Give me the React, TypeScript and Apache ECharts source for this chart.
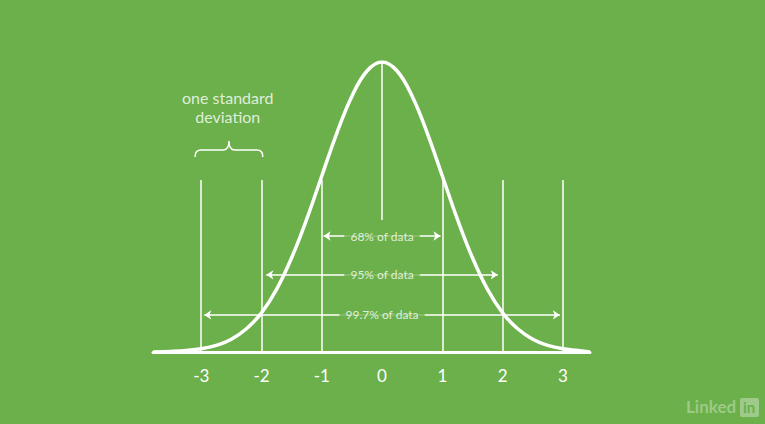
import { useEffect, useRef } from "react"
import * as echarts from "echarts"

// bell curve heights (relative to the peak)
const curveX = [-3.8, -3.5, -3.25, -3, -2.75, -2.5, -2.25, -2, -1.75, -1.5, -1.25, -1, -0.75, -0.5, -0.25, 0, 0.25, 0.5, 0.75, 1, 1.25, 1.5, 1.75, 2, 2.25, 2.5, 2.75, 3, 3.25, 3.45]
const curveY = [0.0, 0.002, 0.005, 0.011, 0.023, 0.044, 0.08, 0.135, 0.216, 0.325, 0.458, 0.607, 0.755, 0.882, 0.969, 1, 0.969, 0.882, 0.755, 0.607, 0.458, 0.325, 0.216, 0.135, 0.08, 0.044, 0.023, 0.011, 0.005, 0.0]

const sigmaLines = [-3, -2, -1, 1, 2, 3]
const sigmaTop = 0.593
const centerBottom = 0.455

const ranges = [
  { label: "68% of data", from: -0.97, to: 0.97, y: 0.4 },
  { label: "95% of data", from: -1.92, to: 1.92, y: 0.266 },
  { label: "99.7% of data", from: -2.95, to: 2.95, y: 0.128 },
]

const tickLabels = ["-3", "-2", "-1", "0", "1", "2", "3"]

const GREEN = "#6bb04a"
const FONT = "Lato, 'Open Sans', sans-serif"

export default function App() {
  const ref = useRef<HTMLDivElement>(null)

  useEffect(() => {
    if (!ref.current) return
    const chart = echarts.init(ref.current, undefined, { renderer: "svg" })

    const vLines = sigmaLines.map((x) => ({ coords: [[x, 0], [x, sigmaTop]] }))
    vLines.push({ coords: [[0, centerBottom], [0, 1]] })

    chart.setOption({
      animation: false,
      backgroundColor: GREEN,
      grid: { left: 153, right: 175, top: 62, bottom: 72 },
      xAxis: {
        type: "value",
        min: -3.8,
        max: 3.45,
        splitLine: { show: false },
        axisTick: { show: false },
        axisLine: { show: true, onZero: false, lineStyle: { color: "#fff", width: 3 } },
        axisLabel: {
          show: true,
          color: "#fff",
          fontSize: 17,
          fontFamily: FONT,
          margin: 15,
          customValues: [-3, -2, -1, 0, 1, 2, 3],
          formatter: (v: number) => tickLabels[v + 3] ?? "",
        },
      },
      yAxis: { type: "value", min: 0, max: 1, show: false },
      series: [
        {
          type: "lines",
          coordinateSystem: "cartesian2d",
          symbol: "none",
          lineStyle: { color: "#fff", width: 1.5, opacity: 1 },
          data: vLines,
          silent: true,
        },
        {
          type: "lines",
          coordinateSystem: "cartesian2d",
          symbol: ["arrow", "arrow"],
          symbolSize: 7,
          lineStyle: { color: "#fff", width: 1.5, opacity: 1 },
          data: ranges.map((r) => ({ coords: [[r.from, r.y], [r.to, r.y]] })),
          silent: true,
        },
        {
          type: "scatter",
          symbolSize: 0,
          data: ranges.map((r) => [0, r.y, r.label]),
          label: {
            show: true,
            position: "inside",
            formatter: (p: any) => p.data[2],
            color: "#fff",
            fontSize: 12,
            fontFamily: FONT,
            backgroundColor: GREEN,
            padding: [2, 6],
          },
          z: 5,
        },
        {
          type: "line",
          data: curveX.map((x, i) => [x, curveY[i]]),
          smooth: 0.4,
          symbol: "none",
          lineStyle: { color: "#fff", width: 3.5 },
          z: 6,
        },
        {
          type: "custom",
          data: [[-3.1, -1.98, 0.728, 0.672]],
          renderItem: (_params: any, api: any) => {
            const [x1, yTop] = api.coord([api.value(0), api.value(2)])
            const [x2, yBot] = api.coord([api.value(1), api.value(3)])
            const mid = (x1 + x2) / 2
            const ym = (yTop + yBot) / 2 + 1
            const r = 6
            const d = `M${x1} ${yBot} L${x1} ${ym + r} Q${x1} ${ym} ${x1 + r} ${ym} L${mid - r} ${ym} Q${mid} ${ym} ${mid} ${yTop} Q${mid} ${ym} ${mid + r} ${ym} L${x2 - r} ${ym} Q${x2} ${ym} ${x2} ${ym + r} L${x2} ${yBot}`
            return {
              type: "path",
              shape: { pathData: d },
              style: { stroke: "#fff", lineWidth: 1.5, fill: "none" },
            }
          },
          silent: true,
        },
        {
          type: "scatter",
          symbolSize: 0,
          data: [[-2.56, 0.845]],
          label: {
            show: true,
            position: "inside",
            formatter: "one standard\ndeviation",
            color: "#fff",
            fontSize: 16,
            lineHeight: 19,
            fontFamily: FONT,
            align: "center",
          },
        },
      ],
      graphic: [
        {
          type: "text",
          left: 686,
          top: 398,
          style: { text: "Linked", fill: "rgba(255,255,255,0.35)", font: `bold 17px ${FONT}` },
        },
        {
          type: "rect",
          left: 740,
          top: 398,
          shape: { width: 19, height: 19, r: 2 },
          style: { fill: "rgba(255,255,255,0.35)" },
        },
        {
          type: "text",
          left: 743,
          top: 399,
          style: { text: "in", fill: GREEN, font: `bold 15px ${FONT}` },
        },
      ],
    })

    return () => chart.dispose()
  }, [])

  return <div ref={ref} style={{ position: "fixed", left: 0, top: 0, width: 765, height: 424 }} />
}
